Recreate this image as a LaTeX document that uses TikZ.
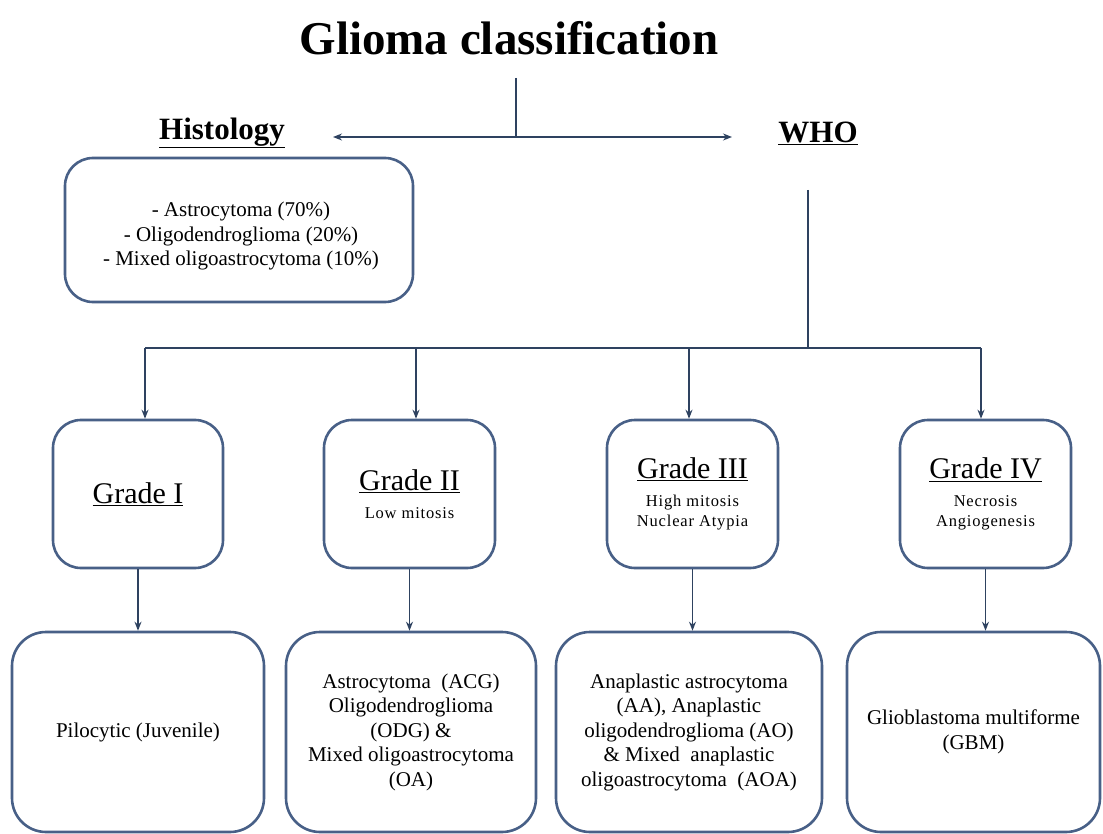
\documentclass[tikz,border=0pt]{standalone}
\usepackage{fontspec}
\setmainfont{Liberation Serif}
\usetikzlibrary{arrows.meta}
\definecolor{boxcol}{RGB}{72,96,135}
\definecolor{linecol}{RGB}{46,66,96}
\newcommand{\gradefont}{\fontsize{30}{34}\selectfont\addfontfeature{LetterSpace=0}}
\newcommand{\subfont}{\fontsize{16.5}{19.5}\selectfont\addfontfeature{LetterSpace=5}}
\tikzset{
  rbox/.style={draw=boxcol, line width=2.6pt, rounded corners=28pt, inner sep=0pt, align=center},
  gbox/.style={rbox, font=\subfont, minimum width=171pt, minimum height=148pt},
  conn/.style={draw=linecol, line width=1.4pt},
  arr/.style={conn, -{Stealth[length=9pt,width=7pt]}},
  body/.style={font=\fontsize{21}{24.5}\selectfont},
  bbox/.style={rbox, body, minimum height=200pt, rounded corners=34pt},
  head/.style={font=\fontsize{31}{36}\selectfont\bfseries, inner sep=0pt},
}
\begin{document}
\begin{tikzpicture}[x=1pt,y=-1pt]
\useasboundingbox (0,0) rectangle (1103,834);
\clip (0,0) rectangle (1103,834);
\fill[white] (0,0) rectangle (1103,834);

% headings
\node[inner sep=0pt] (title) at (509,38) {\fontsize{47}{50}\selectfont\bfseries Glioma classification};
\node[head] (hist) at (222,133) {\underline{Histology}};
\node[head] (who) at (818,133) {\underline{WHO}};

% top split
\coordinate (top) at (516,78);
\coordinate (tj) at (516,137);
\coordinate (hl) at (333,137);
\coordinate (hr) at (732,137);
\draw[conn] (top) -- (tj);
\draw[arr] (tj) -- (hl);
\draw[arr] (tj) -- (hr);

% histology box
\node[rbox, minimum width=348pt, minimum height=144pt] (hbox) at (239,230) {};
\node[body, align=center, inner sep=0pt] (htext) at (241,236)
  {- Astrocytoma (70\%)\\ - Oligodendroglioma (20\%)\\ - Mixed oligoastrocytoma (10\%)};

% WHO branch
\coordinate (w1) at (808,190);
\coordinate (w2) at (808,348);
\coordinate (ja) at (145,348);
\coordinate (jb) at (416,348);
\coordinate (jc) at (689,348);
\coordinate (jd) at (981,348);
\draw[conn] (w1) -- (w2);
\draw[conn] (ja) -- (jd);

% grade boxes
\node[gbox, minimum width=170pt] (g1) at (138,494)
  {{\gradefont\underline{Grade I}}};
\node[gbox] (g2) at (409.5,494)
  {{\gradefont\underline{Grade II}}\\[8.5pt] Low mitosis};
\node[gbox] (g3) at (692.5,494)
  {{\gradefont\underline{Grade III}}\\[8.5pt] High mitosis\\ Nuclear Atypia};
\node[gbox] (g4) at (985.5,494)
  {{\gradefont\underline{Grade IV}}\\[8.5pt] Necrosis\\ Angiogenesis};

\draw[arr] (ja) -- (ja |- g1.north);
\draw[arr] (jb) -- (jb |- g2.north);
\draw[arr] (jc) -- (jc |- g3.north);
\draw[arr] (jd) -- (jd |- g4.north);

% bottom boxes
\node[bbox, minimum width=252pt] (b1) at (138,732)
  {Pilocytic (Juvenile)};
\node[bbox, minimum width=250pt] (b2) at (411,732)
  {Astrocytoma\ \ (ACG)\\ Oligodendroglioma\\ (ODG) \&\\ Mixed oligoastrocytoma\\ (OA)};
\node[bbox, minimum width=266pt] (b3) at (689,732)
  {Anaplastic astrocytoma\\ (AA), Anaplastic\\ oligodendroglioma (AO)\\ \& Mixed\ \ anaplastic\\ oligoastrocytoma\ \ (AOA)};
\node[bbox, minimum width=253pt] (b4) at (973.5,732)
  {Glioblastoma multiforme\\ (GBM)};

\draw[arr] (g1.south) -- (g1.south |- b1.north);
\draw[arr] (g2.south) -- (g2.south |- b2.north);
\draw[arr] (g3.south) -- (g3.south |- b3.north);
\draw[arr] (g4.south) -- (g4.south |- b4.north);
\end{tikzpicture}
\end{document}
